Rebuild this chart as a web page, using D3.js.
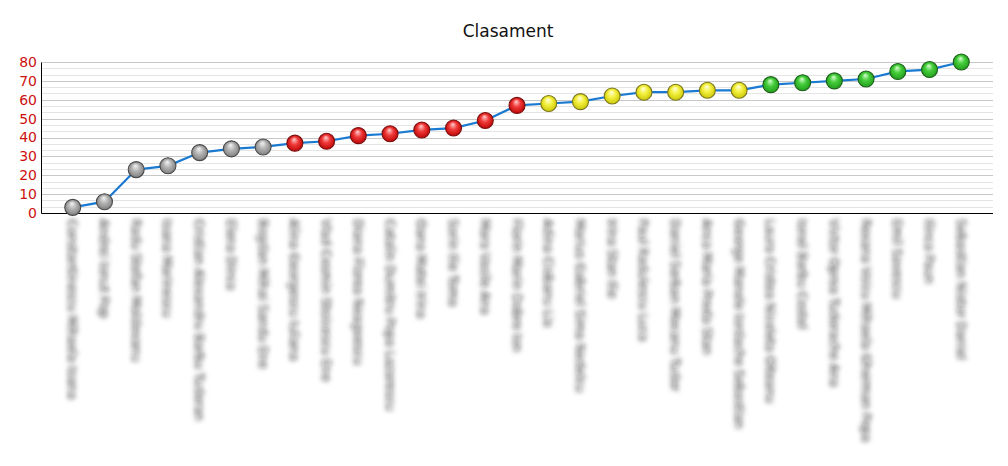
<!DOCTYPE html>
<html>
<head>
<meta charset="utf-8">
<script src="https://cdn.jsdelivr.net/npm/d3@7"></script>
<style>
  body { margin: 0; background: #fff; }
  text { font-family: "DejaVu Sans", Verdana, sans-serif; }
</style>
</head>
<body>
<div id="chart"></div>
<script>
// participant names (blurred in the original)
const nume = [
  "Constantinescu Mihaela Ioana", "Andrei Ionut Pop", "Radu Stefan Moldovanu",
  "Ioana Marinescu", "Cristian Alexandru Barbu Tudoran", "Elena Dinca",
  "Bogdan Mihai Sandu Ene", "Alina Georgescu Iuliana", "Vlad Cosmin Stoicescu Ene",
  "Diana Florea Neagoescu", "Catalin Dumitru Popa Lazarescu", "Oana Matei Irina",
  "Sorin Ilie Toma", "Mara Vasile Ana", "Florin Marin Dobre Ion",
  "Adina Ciobanu Lia", "Marius Gabriel Sima Nedelcu", "Irina Stan Ilie",
  "Paul Radulescu Luca", "Daniel Serban Mocanu Tudor", "Anca Maria Preda Stan",
  "George Manole Iordache Sebastian", "Laura Cristea Nicoleta Olteanu", "Ionel Barbu Costel",
  "Victor Oprea Tudorache Ana", "Roxana Voicu Mihaela Gherman Popa", "Emil Savescu",
  "Ilinca Paun", "Sebastian Nistor Daniel"
];
const puncte = [3, 6, 23, 25, 32, 34, 35, 37, 38, 41, 42, 44, 45, 49, 57,
                58, 59, 62, 64, 64, 65, 65, 68, 69, 70, 71, 75, 76, 80];
const grupe = [
  "gri", "gri", "gri", "gri", "gri", "gri", "gri",
  "rosu", "rosu", "rosu", "rosu", "rosu", "rosu", "rosu", "rosu",
  "galben", "galben", "galben", "galben", "galben", "galben", "galben",
  "verde", "verde", "verde", "verde", "verde", "verde", "verde"
];
const yTicks = [0, 10, 20, 30, 40, 50, 60, 70, 80];

const width = 1008, height = 466;
const margin = { top: 62, left: 41, bottom: 253, right: 15 };
const iwidth = width - margin.left - margin.right;
const iheight = height - margin.top - margin.bottom;

const culori = {
  gri:    { hi: "#f4f4f4", mid: "#b4b4b4", lo: "#7a7a7a", stroke: "#4a4a4a" },
  rosu:   { hi: "#ffd0d0", mid: "#f03a3a", lo: "#b80000", stroke: "#7a1010" },
  galben: { hi: "#ffffe0", mid: "#f4f040", lo: "#c8c400", stroke: "#7a7620" },
  verde:  { hi: "#d8ffd0", mid: "#44cc3a", lo: "#1f9a1a", stroke: "#1c5e1a" }
};

const svg = d3.select("#chart").append("svg")
  .attr("width", width)
  .attr("height", height);

const defs = svg.append("defs");
Object.entries(culori).forEach(([k, c]) => {
  const grad = defs.append("radialGradient")
    .attr("id", "grad-" + k)
    .attr("cx", "50%").attr("cy", "50%").attr("r", "55%")
    .attr("fx", "45%").attr("fy", "25%");
  grad.append("stop").attr("offset", "0%").attr("stop-color", c.hi);
  grad.append("stop").attr("offset", "45%").attr("stop-color", c.mid);
  grad.append("stop").attr("offset", "100%").attr("stop-color", c.lo);
});
defs.append("filter").attr("id", "blur")
  .attr("x", "-50%").attr("y", "-10%").attr("width", "200%").attr("height", "120%")
  .append("feGaussianBlur").attr("stdDeviation", 2.6);

svg.append("text")
  .attr("x", 508).attr("y", 37)
  .attr("text-anchor", "middle")
  .style("font-size", "17px")
  .style("fill", "#111")
  .text("Clasament");

const g = svg.append("g").attr("transform", `translate(${margin.left},${margin.top})`);

const y = d3.scaleLinear().domain([0, 80]).range([iheight, 0]);
const x = d3.scalePoint()
  .domain(nume.map((d, i) => i))
  .range([0, iwidth])
  .padding(1);

// minor grid (every 10/3)
const minor = d3.range(0, 81, 10 / 3).filter(v => Math.abs(v % 10) > 0.01 && Math.abs(v % 10 - 10) > 0.01);
g.selectAll(".minor").data(minor).enter().append("line")
  .attr("x1", 0).attr("x2", iwidth)
  .attr("y1", d => Math.round(y(d)) + 0.5).attr("y2", d => Math.round(y(d)) + 0.5)
  .style("stroke", "#e4e4e4");

g.selectAll(".major").data(yTicks.slice(1)).enter().append("line")
  .attr("x1", 0).attr("x2", iwidth)
  .attr("y1", d => Math.round(y(d)) + 0.5).attr("y2", d => Math.round(y(d)) + 0.5)
  .style("stroke", "#c8c8c8");

const yAxis = g.append("g")
  .call(d3.axisLeft(y).tickValues(yTicks).tickSize(0).tickPadding(4));
yAxis.select(".domain").style("stroke", "#000");
yAxis.selectAll("text")
  .style("fill", "#cc1010")
  .style("font-size", "14px")
  .style("font-family", "\"DejaVu Sans\", Verdana, sans-serif");

const xAxis = g.append("g")
  .attr("transform", `translate(0,${iheight})`)
  .call(d3.axisBottom(x).tickSize(0).tickFormat(""));
xAxis.select(".domain").style("stroke", "#000").attr("d", `M0.5,0.5H${iwidth}`);

// blurred vertical labels
g.append("g").attr("filter", "url(#blur)")
  .selectAll("text").data(nume).enter().append("text")
  .attr("transform", (d, i) => `translate(${x(i) - 4.5},${iheight + 6}) rotate(90)`)
  .style("font-size", "12px")
  .style("fill", "#1a1a1a")
  .text(d => d);

const line = d3.line()
  .x((d, i) => x(i))
  .y(d => y(d));

g.append("path")
  .datum(puncte)
  .attr("d", line)
  .style("fill", "none")
  .style("stroke", "#1a7ad2")
  .style("stroke-width", 2.2);

g.selectAll("circle").data(puncte).enter().append("circle")
  .attr("cx", (d, i) => x(i))
  .attr("cy", d => y(d))
  .attr("r", 8)
  .style("fill", (d, i) => `url(#grad-${grupe[i]})`)
  .style("stroke", (d, i) => culori[grupe[i]].stroke)
  .style("stroke-width", 1.1);
</script>
</body>
</html>
